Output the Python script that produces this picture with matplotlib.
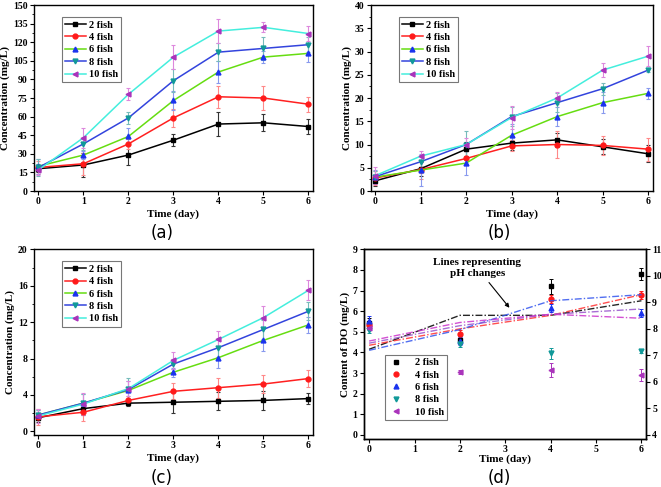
import numpy as np
import matplotlib
matplotlib.use("Agg")
import matplotlib.pyplot as plt
from matplotlib.ticker import MultipleLocator, AutoMinorLocator

plt.rcParams['font.family'] = 'Liberation Serif'
plt.rcParams['font.weight'] = 'bold'
plt.rcParams['axes.labelweight'] = 'bold'
plt.rcParams['axes.linewidth'] = 1.0

days = [0, 1, 2, 3, 4, 5, 6]
labels = ['2 fish', '4 fish', '6 fish', '8 fish', '10 fish']

# panel (a)
a_vals = [[18, 21, 29, 41, 54, 55, 52],
          [19, 22, 38, 59, 76, 75, 70],
          [20, 29, 44, 73, 96, 108, 111],
          [19, 38, 59, 89, 112, 115, 118],
          [17, 43, 78, 108, 129, 132, 127]]
a_err = [[3, 10, 8, 5, 10, 7, 6],
         [5, 9, 4, 7, 9, 10, 6],
         [6, 3, 7, 8, 9, 5, 7],
         [7, 5, 5, 9, 7, 9, 6],
         [4, 8, 5, 10, 10, 4, 6]]

# panel (b)
b_vals = [[2.2, 4.8, 9.0, 10.3, 11.0, 9.5, 8.0],
          [2.8, 4.6, 7.0, 9.7, 10.0, 9.8, 9.0],
          [3.0, 4.5, 6.0, 12.0, 16.0, 19.0, 21.0],
          [3.1, 6.3, 10.0, 16.0, 19.0, 22.0, 26.0],
          [3.3, 7.5, 10.0, 15.8, 20.0, 26.0, 29.0]]
b_err = [[1.2, 1.5, 1.5, 1.5, 1.5, 1.6, 1.8],
         [1.5, 2.0, 1.5, 1.2, 3.0, 2.0, 2.5],
         [1.5, 3.5, 2.5, 2.5, 2.0, 2.2, 1.2],
         [1.3, 1.5, 3.0, 2.0, 2.0, 1.3, 0.5],
         [1.8, 1.2, 1.5, 2.5, 1.3, 1.5, 2.2]]

# panel (c)
c_vals = [[1.5, 2.5, 3.1, 3.2, 3.3, 3.4, 3.6],
          [1.6, 2.1, 3.4, 4.4, 4.8, 5.2, 5.8],
          [1.8, 3.1, 4.5, 6.5, 8.1, 10.0, 11.7],
          [1.8, 3.1, 4.6, 7.4, 9.2, 11.2, 13.2],
          [1.7, 3.0, 4.7, 7.8, 10.1, 12.5, 15.5]]
c_err = [[0.5, 0.7, 0.3, 1.2, 1.0, 1.0, 0.6],
         [0.9, 1.0, 0.5, 0.9, 1.1, 1.0, 0.9],
         [0.6, 1.0, 1.0, 0.5, 1.1, 1.2, 0.9],
         [0.5, 1.0, 1.3, 0.5, 1.0, 1.0, 1.0],
         [0.8, 1.2, 0.8, 0.9, 0.9, 1.3, 1.1]]

# panel (d): DO (left axis) and pH (right axis)
d_days = [0, 2, 4, 6]
do_vals = [[5.45, 4.6, 7.2, 7.8],
           [5.35, 4.9, 6.6, 6.8],
           [5.5, 4.55, 6.15, 5.9],
           [5.1, 4.4, 3.95, 4.05],
           [5.2, 3.05, 3.15, 2.9]]
do_err = [[0.2, 0.2, 0.35, 0.3],
          [0.15, 0.2, 0.2, 0.2],
          [0.25, 0.2, 0.2, 0.2],
          [0.15, 0.15, 0.25, 0.1],
          [0.1, 0.1, 0.35, 0.3]]
ph_vals = [[7.23, 8.51, 8.51, 9.06],
           [7.38, 8.0, 8.51, 9.29],
           [7.19, 7.97, 9.06, 9.29],
           [7.46, 8.12, 8.55, 8.75],
           [7.54, 8.24, 8.55, 8.4]]

line_colors = ['black', '#ff2020', '#66dd11', '#3344dd', '#44eedd']
mk_colors = ['black', '#ff1a1a', '#1a33ee', '#119999', '#aa33bb']
err_colors = ['#333333', '#ff8888', '#8899ee', '#77bbbb', '#dd88dd']
markers = ['s', 'o', '^', 'v', '<']
ph_colors = ['black', '#ff3030', '#3355ee', '#9955cc', '#cc33cc']

fig = plt.figure(figsize=(6.61, 4.87), dpi=100)


def style(ax, ylim, ystep):
    ax.set_xlim(-0.1, 6.1)
    ax.set_ylim(*ylim)
    ax.xaxis.set_major_locator(MultipleLocator(1))
    ax.yaxis.set_major_locator(MultipleLocator(ystep))
    ax.yaxis.set_minor_locator(AutoMinorLocator(2))
    ax.tick_params(direction='out', labelsize=7, length=3, width=0.8,
                   top=False, right=False, pad=1.5)
    ax.tick_params(which='minor', length=1.8, width=0.6)
    for t in ax.get_xticklabels() + ax.get_yticklabels():
        t.set_fontweight('bold')
    ax.set_xlabel('Time (day)', fontsize=8, labelpad=2)


def make_legend(ax, loc, anchor, hl, htp, handles=None):
    kw = {}
    if handles is not None:
        kw = dict(handles=handles, labels=labels)
    leg = ax.legend(loc=loc, bbox_to_anchor=anchor, fontsize=7.5,
                    frameon=True, fancybox=False, edgecolor='#555555',
                    handlelength=hl, handletextpad=htp, labelspacing=0.3,
                    borderpad=0.3, borderaxespad=0, **kw)
    leg.get_frame().set_linewidth(0.8)
    for t in leg.get_texts():
        t.set_fontweight('bold')


def panel(rect, vals, errs, ylim, ystep):
    ax = fig.add_axes(rect)
    for i in range(5):
        ax.errorbar(days, vals[i], yerr=errs[i], fmt='none', ecolor=err_colors[i],
                    elinewidth=0.8, capsize=1.5, capthick=0.8, zorder=2)
        ax.plot(days, vals[i], color=line_colors[i], lw=1.1, marker=markers[i],
                ms=3.5, mfc=mk_colors[i], mec=mk_colors[i], label=labels[i], zorder=3)
    style(ax, ylim, ystep)
    ax.set_ylabel('Concentration (mg/L)', fontsize=8, labelpad=2)
    make_legend(ax, 'upper left', (0.1, 0.935), 2.0, 0.3)
    return ax


axa = panel([0.0514, 0.6078, 0.4221, 0.3819], a_vals, a_err, (0, 150), 15)
axb = panel([0.5608, 0.6078, 0.4266, 0.3819], b_vals, b_err, (0, 40), 5)
axc = panel([0.0514, 0.1068, 0.4221, 0.3812], c_vals, c_err, (-0.4, 20), 4)

# panel (d)
axd = fig.add_axes([0.5502, 0.0986, 0.4271, 0.3894])
pts = []
for i in range(5):
    eb = axd.errorbar(d_days, do_vals[i], yerr=do_err[i], fmt=markers[i], ms=3.5,
                      color=mk_colors[i], ecolor=mk_colors[i], elinewidth=0.7,
                      capsize=1.5, capthick=0.7, zorder=3)
    pts.append(eb.lines[0])
style(axd, (-0.2, 9), 1)
axd.set_xlim(-0.12, 6.1)
axd.set_xlabel('Time (day)', fontsize=8, labelpad=0)
axd.yaxis.set_minor_locator(AutoMinorLocator(1))
axd.set_ylabel('Content of DO (mg/L)', fontsize=8, labelpad=2)
axr = axd.twinx()
for i in range(5):
    axr.plot(d_days, ph_vals[i], color=ph_colors[i], lw=1.0, ls=(0, (5, 1.5, 1, 1.5)),
             alpha=0.85)
axr.set_ylim(4 - 0.2 * 7 / 9, 11)
axr.yaxis.set_major_locator(MultipleLocator(1))
axr.tick_params(direction='out', labelsize=7, length=3, width=0.8, pad=1.5)
for t in axr.get_yticklabels():
    t.set_fontweight('bold')
make_legend(axd, 'lower left', (0.075, 0.1), 1.6, 1.0, handles=pts)
axd.annotate('Lines representing\npH changes', xy=(3.13, 6.06), xytext=(2.38, 8.1),
             ha='center', va='center', fontsize=8, fontweight='bold',
             arrowprops=dict(arrowstyle='-|>', color='black', lw=0.8,
                             mutation_scale=6))

for x, y, s in [(0.2451, 0.5216, '(a)'), (0.756, 0.5216, '(b)'),
                (0.2451, 0.0185, '(c)'), (0.756, 0.0185, '(d)')]:
    fig.text(x, y, s, ha='center', va='center', fontsize=12,
             family='DejaVu Sans', fontweight='normal')

fig.savefig('out.png', dpi=100)
